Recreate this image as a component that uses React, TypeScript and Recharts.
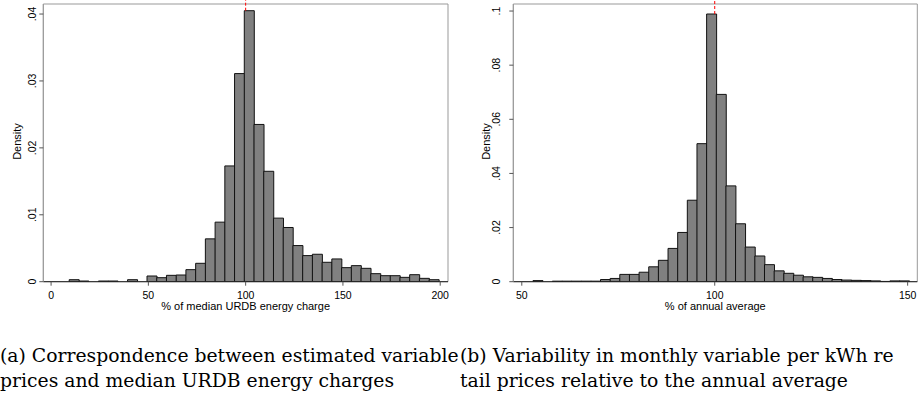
import React from 'react';
import { BarChart, Bar, XAxis, YAxis, ReferenceLine, ReferenceArea } from 'recharts';

// Panel (a): bins of width 5, midpoints and densities
const binMidsA = [
  1.8, 6.8, 11.8, 16.8, 21.8, 26.8, 31.8, 36.8, 41.8, 46.8,
  51.8, 56.8, 61.8, 66.8, 71.8, 76.8, 81.8, 86.8, 91.8, 96.8,
  101.8, 106.8, 111.8, 116.8, 121.8, 126.8, 131.8, 136.8, 141.8, 146.8,
  151.8, 156.8, 161.8, 166.8, 171.8, 176.8, 181.8, 186.8, 191.8, 196.8,
];
const densityA = [
  0, 0, 0.0003, 0.0001, 0, 0.0001, 0.0001, 0, 0.0003, 0,
  0.00085, 0.0006, 0.00095, 0.001, 0.0018, 0.00275, 0.0064, 0.0089, 0.0173, 0.0311,
  0.0405, 0.0235, 0.0165, 0.0095, 0.0081, 0.0054, 0.0039, 0.0041, 0.0029, 0.0034,
  0.0021, 0.0024, 0.002, 0.0012, 0.0009, 0.0009, 0.00065, 0.00105, 0.0005, 0.0003,
];
const xTicksA = [0, 50, 100, 150, 200];
const yTicksA = [0, 0.01, 0.02, 0.03, 0.04];

// Panel (b): bins of width 2.5
const binMidsB = [
  51.65, 54.15, 56.65, 59.15, 61.65, 64.15, 66.65, 69.15, 71.65, 74.15,
  76.65, 79.15, 81.65, 84.15, 86.65, 89.15, 91.65, 94.15, 96.65, 99.15,
  101.65, 104.15, 106.65, 109.15, 111.65, 114.15, 116.65, 119.15, 121.65, 124.15,
  126.65, 129.15, 131.65, 134.15, 136.65, 139.15, 141.65, 144.15, 146.65, 149.15,
];
const densityB = [
  0, 0.0004, 0, 0.0002, 0.0002, 0.0002, 0.0002, 0.0002, 0.0008, 0.0012,
  0.0027, 0.0027, 0.0035, 0.0055, 0.0079, 0.0123, 0.0182, 0.0301, 0.051, 0.0989,
  0.0692, 0.0354, 0.0214, 0.0128, 0.0095, 0.0063, 0.004, 0.0031, 0.0024, 0.0018,
  0.0016, 0.0012, 0.0008, 0.0006, 0.0005, 0.0004, 0.0003, 0.0001, 0.0003, 0.0003,
];
const xTicksB = [50, 100, 150];
const yTicksB = [0, 0.02, 0.04, 0.06, 0.08, 0.1];

const SANS = '"Liberation Sans", Arial, sans-serif';
const SERIF = '"DejaVu Serif", serif';

// Stata style: .01 instead of 0.01
const fmtDensity = (v: number) => (v === 0 ? '0' : String(v).replace(/^0/, ''));

const YTick = ({ x, y, payload, gap }: any) => (
  <text
    transform={`translate(${x + 6 - gap},${y}) rotate(-90)`}
    textAnchor="middle"
    fontSize={10.5}
    fontFamily={SANS}
    fill="#000"
  >
    {fmtDensity(payload.value)}
  </text>
);

interface HistProps {
  mids: number[];
  values: number[];
  xDomain: [number, number];
  yMax: number;
  xTicks: number[];
  yTicks: number[];
  xTitle: string;
  width: number;
  yAxisWidth: number;
  marginRight: number;
  tickGap: number;
  titleX: number;
}

const Histogram: React.FC<HistProps> = (p) => {
  const data = p.mids.map((m, i) => ({ mid: m, density: p.values[i] }));
  const peak = Math.max(...p.values);
  return (
    <BarChart
      width={p.width}
      height={320}
      data={data}
      margin={{ top: 4, right: p.marginRight, left: 0, bottom: 0 }}
      barCategoryGap={0}
      barGap={0}
    >
      <XAxis
        type="number"
        dataKey="mid"
        domain={p.xDomain}
        ticks={p.xTicks}
        allowDataOverflow
        height={38.3}
        tickSize={4}
        tickMargin={6}
        tick={{ fontSize: 10.5, fontFamily: SANS, fill: '#000' }}
        tickLine={{ stroke: '#555' }}
        axisLine={{ stroke: '#222' }}
        label={{
          value: p.xTitle,
          position: 'insideBottom',
          offset: 10,
          style: { fontSize: 11, fontFamily: SANS, fill: '#000' },
        }}
      />
      <YAxis
        type="number"
        domain={[0, p.yMax]}
        ticks={p.yTicks}
        allowDataOverflow
        width={p.yAxisWidth}
        tickSize={4}
        tickMargin={2}
        tick={<YTick gap={p.tickGap} />}
        tickLine={{ stroke: '#555' }}
        axisLine={{ stroke: '#999' }}
        label={{
          content: () => (
            <text
              transform={`translate(${p.titleX},141.5) rotate(-90)`}
              textAnchor="middle"
              fontSize={11}
              fontFamily={SANS}
              fill="#000"
            >
              Density
            </text>
          ),
        }}
      />
      <ReferenceArea
        x1={p.xDomain[0]}
        x2={p.xDomain[1]}
        y1={0}
        y2={p.yMax}
        fill="none"
        stroke="#999"
        strokeWidth={1}
        ifOverflow="visible"
      />
      <ReferenceLine
        segment={[
          { x: 100, y: peak },
          { x: 100, y: p.yMax * 1.015 },
        ]}
        stroke="#ff0000"
        strokeDasharray="3 2"
        ifOverflow="visible"
      />
      <Bar
        dataKey="density"
        fill="#808080"
        stroke="#111"
        strokeWidth={1}
        isAnimationActive={false}
      />
    </BarChart>
  );
};

const captionStyle: React.CSSProperties = {
  position: 'absolute',
  top: 343,
  fontFamily: SERIF,
  fontSize: 18.8,
  lineHeight: '25px',
  color: '#000',
  whiteSpace: 'nowrap',
};

export default function App() {
  return (
    <div
      style={{
        position: 'absolute',
        left: 0,
        top: 0,
        width: 919,
        height: 395,
        background: '#fff',
        overflow: 'hidden',
      }}
    >
      <div style={{ position: 'absolute', left: 0, top: 0 }}>
        <Histogram
          mids={binMidsA}
          values={densityA}
          xDomain={[-4, 204]}
          yMax={0.0415}
          xTicks={xTicksA}
          yTicks={yTicksA}
          xTitle="% of median URDB energy charge"
          width={460}
          yAxisWidth={43.3}
          marginRight={12}
          tickGap={7.5}
          titleX={20.6}
        />
      </div>
      <div style={{ position: 'absolute', left: 460, top: 0 }}>
        <Histogram
          mids={binMidsB}
          values={densityB}
          xDomain={[47.8, 152.5]}
          yMax={0.1026}
          xTicks={xTicksB}
          yTicks={yTicksB}
          xTitle="% of annual average"
          width={459}
          yAxisWidth={53.3}
          marginRight={1.7}
          tickGap={13}
          titleX={29.6}
        />
      </div>
      <div style={{ ...captionStyle, left: 0 }}>
        (a) Correspondence between estimated variable
        <br />
        prices and median URDB energy charges
      </div>
      <div style={{ ...captionStyle, left: 460 }}>
        (b) Variability in monthly variable per kWh re
        <br />
        tail prices relative to the annual average
      </div>
    </div>
  );
}
